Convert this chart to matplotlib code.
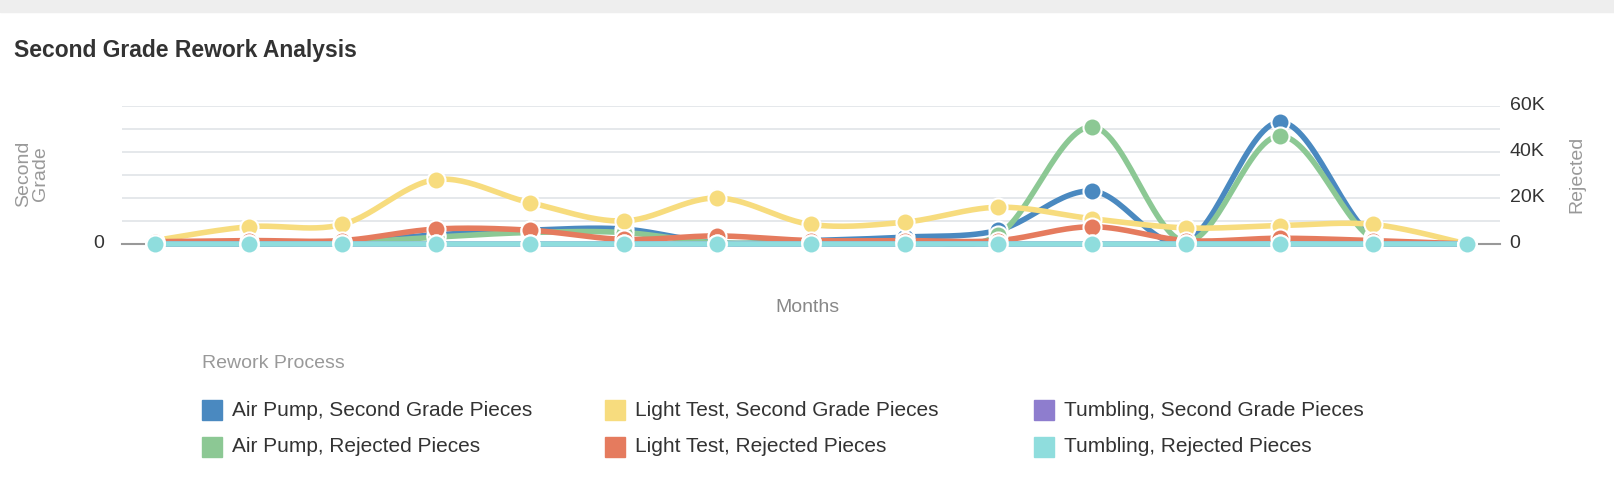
import numpy as np
import matplotlib.pyplot as plt
from matplotlib.patches import Rectangle

months = list(range(15))
air_pump_second = [500, 0, 1000, 4000, 6000, 6500, 500, 1500, 3000, 6000, 23000, 1000, 53000, 3000, 0]
air_pump_rejected = [0, 0, 500, 3000, 5000, 5000, 500, 1000, 1500, 4000, 51000, 1000, 47000, 2000, 0]
light_second = [1500, 7500, 8500, 28000, 18000, 10000, 20000, 8500, 9500, 16000, 11000, 7000, 8000, 8500, 0]
light_rejected = [1000, 1500, 1500, 6500, 6000, 2000, 3500, 1500, 1500, 1500, 7500, 1500, 2500, 1500, 0]
tumbling_second = [0] * 15
tumbling_rejected = [0] * 15

series = [
    ("Air Pump, Second Grade Pieces", air_pump_second, "#4a89c0"),
    ("Air Pump, Rejected Pieces", air_pump_rejected, "#8cc894"),
    ("Light Test, Second Grade Pieces", light_second, "#f7dc7e"),
    ("Light Test, Rejected Pieces", light_rejected, "#e57b5e"),
    ("Tumbling, Second Grade Pieces", tumbling_second, "#8e7dce"),
    ("Tumbling, Rejected Pieces", tumbling_rejected, "#8fdddd"),
]
right_ticks = [0, 20000, 40000, 60000]
right_labels = ["0", "20K", "40K", "60K"]


def smooth(x, y, n=30):
    # catmull-rom curve through the points, for drawing only
    x = np.asarray(x, float)
    y = np.asarray(y, float)
    px = np.concatenate([[x[0]], x, [x[-1]]])
    py = np.concatenate([[y[0]], y, [y[-1]]])
    xs, ys = [], []
    t = np.linspace(0, 1, n)
    for i in range(1, len(px) - 2):
        for p, out in ((px, xs), (py, ys)):
            p0, p1, p2, p3 = p[i - 1], p[i], p[i + 1], p[i + 2]
            out.extend(0.5 * (2 * p1 + (-p0 + p2) * t + (2 * p0 - 5 * p1 + 4 * p2 - p3) * t ** 2
                              + (-p0 + 3 * p1 - 3 * p2 + p3) * t ** 3))
    return xs, np.maximum(ys, 0)


plt.rcParams['font.family'] = ['Liberation Sans', 'DejaVu Sans']
fig = plt.figure(figsize=(16.14, 4.96), dpi=100)
fig.patches.append(Rectangle((0, 1 - 12 / 496), 1, 12 / 496, transform=fig.transFigure,
                             color="#eeeeee", zorder=0))

ax = fig.add_axes([122 / 1614, 1 - 244 / 496, (1500 - 122) / 1614, (244 - 106) / 496])
for name, vals, col in series:
    sx, sy = smooth(months, vals)
    ax.plot(sx, sy, color=col, lw=4, solid_capstyle="round", zorder=2)
    ax.plot(months, vals, "o", color=col, ms=13, mec="white", mew=1.5, zorder=3)

ax.set_xlim(-0.35, 14.35)
ax.set_ylim(0, 60000)
ax.set_yticks(np.arange(0, 60001, 10000))
ax.grid(axis="y", color="#e0e4e8", lw=1.2)
ax.axhline(0, color="#999999", lw=1.5, zorder=1)
ax.set_xticks([])
ax.tick_params(left=False, labelleft=False)
for s in ax.spines.values():
    s.set_visible(False)
ax.set_axisbelow(True)
for ln in ax.lines:
    ln.set_clip_on(False)

for v, lab in zip(right_ticks, right_labels):
    ax.text(1.007, v / 60000, lab, transform=ax.transAxes, ha="left", va="center",
            fontsize=14, color="#333333")
ax.text(-0.013, 0, "0", transform=ax.transAxes, ha="right", va="center", fontsize=14, color="#333333")

fig.text(14 / 1614, 1 - 50 / 496, "Second Grade Rework Analysis", fontsize=16.5, fontweight="bold",
         color="#333333", va="center")
fig.text(32 / 1614, 1 - 174 / 496, "Second\nGrade", rotation=90, ha="center", va="center",
         fontsize=14, color="#999999", linespacing=0.95)
fig.text(1577 / 1614, 1 - 174 / 496, "Rejected", rotation=90, ha="center", va="center",
         fontsize=14, color="#999999")
fig.text(807 / 1614, 1 - 308 / 496, "Months", ha="center", va="center", fontsize=14, color="#888888")
fig.text(202 / 1614, 1 - 364 / 496, "Rework Process", ha="left", va="center", fontsize=14, color="#999999")

col_x = [202, 605, 1034]
row_y = [410, 447]
for i, (name, vals, col) in enumerate(series):
    cx = col_x[i // 2]
    cy = row_y[i % 2]
    fig.patches.append(Rectangle((cx / 1614, 1 - (cy + 10) / 496), 20 / 1614, 20 / 496,
                                 transform=fig.transFigure, color=col))
    fig.text((cx + 30) / 1614, 1 - cy / 496, name, ha="left", va="center", fontsize=15, color="#333333")

fig.savefig("out.png", dpi=100)
